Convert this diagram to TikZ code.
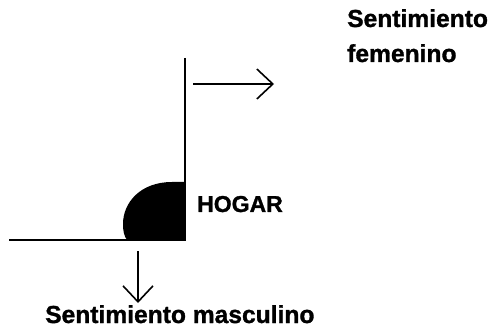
\documentclass[tikz,border=0pt]{standalone}
\usepackage{fontspec}
\setmainfont{Liberation Sans}[BoldFeatures={FakeBold=1.2}]
\usetikzlibrary{arrows.meta}
\begin{document}
\begin{tikzpicture}[x=1pt,y=-1pt,
  ln/.style={line width=1.8pt},
  arr/.style={line width=1.6pt,-{Straight Barb[length=16pt,width=30pt,line width=1.6pt]}},
  lbl/.style={font=\bfseries\fontsize{24.6}{28}\selectfont,inner sep=0pt,anchor=base west}]
\useasboundingbox (0,0) rectangle (494,328);
\coordinate (top) at (185,58);
\coordinate (corner) at (185,240);
\coordinate (left) at (9,240);
\coordinate (ra) at (193,84);
\coordinate (rb) at (274,84);
\coordinate (da) at (138,251);
\coordinate (db) at (138,303);
\fill (185,240) -- (185,182) -- (172,182) .. controls (140,182) and (123,203) .. (123,224) .. controls (123,231) and (124,236) .. (127,240) -- cycle;
\draw[ln] (top) -- (corner) -- (left);
\draw[arr] (ra) -- (rb);
\draw[arr] (da) -- (db);
\node[lbl] (sf1) at (347,27) {Sentimiento};
\node[lbl] (sf2) at (347,62) {femenino};
\node[lbl,font=\bfseries\fontsize{23}{26}\selectfont] (hogar) at (197,212) {HOGAR};
\node[lbl] (sm) at (45,323) {Sentimiento masculino};
\end{tikzpicture}
\end{document}
